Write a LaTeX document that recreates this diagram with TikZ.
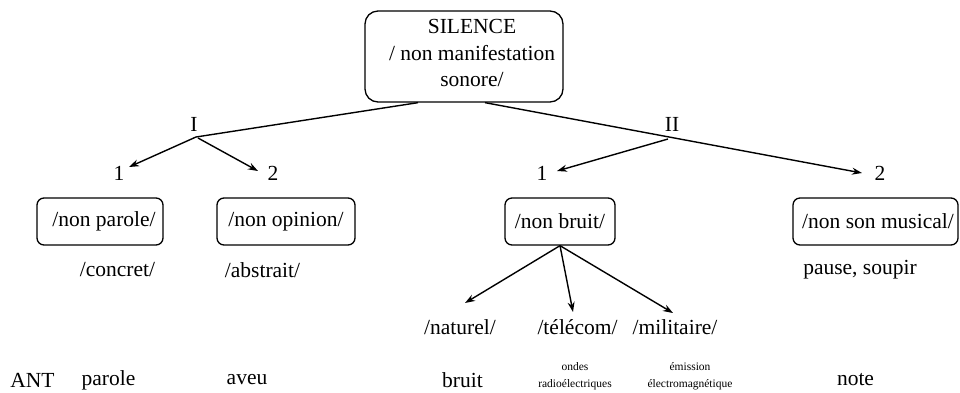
\documentclass[tikz,border=0pt]{standalone}
\usepackage{fontspec}
\setmainfont{Liberation Serif}
\usetikzlibrary{arrows.meta}
\begin{document}
\begin{tikzpicture}[x=1pt,y=-1pt,
  txt/.style={font=\fontsize{21.5}{26.5}\selectfont, inner sep=0pt},
  small/.style={font=\fontsize{11.5}{17}\selectfont, inner sep=0pt, align=center},
  box/.style={draw, rounded corners=7pt, line width=1.3pt, minimum height=47pt, inner sep=0pt, font=\fontsize{21.5}{26.5}\selectfont},
  conn/.style={line width=1.4pt},
  arr/.style={line width=1.4pt, -{Stealth[length=10pt,width=7pt]}}]
\useasboundingbox (0,0) rectangle (960,392);

% top box
\node[draw, rounded corners=13pt, line width=1.3pt, minimum width=198pt, minimum height=91pt, inner sep=0pt] (top) at (464,56.5) {};
\node[txt, align=center] (toptext) at (472,53) {SILENCE\\/ non manifestation\\sonore/};

% level labels
\node[txt] (lI) at (194,124) {I};
\node[txt] (lII) at (672,124) {II};
\node[txt] (n1a) at (119,173) {1};
\node[txt] (n2a) at (273,173) {2};
\node[txt] (n1b) at (542,173) {1};
\node[txt] (n2b) at (880,173) {2};

\coordinate (jI) at (196,137);
\coordinate (jIb) at (198,138);
\coordinate (jII) at (668,139);
\coordinate (tI1) at (129,167);
\coordinate (tI2) at (258,171);
\coordinate (tII1) at (557,171);
\coordinate (tII2) at (862,173);

\draw[conn] ([xshift=-46pt]top.south) -- (jI);
\draw[arr] (jI) -- (tI1);
\draw[arr] (jIb) -- (tI2);
\draw[arr] ([xshift=21pt]top.south) -- (tII2);
\draw[arr] (jII) -- (tII1);

% boxes
\node[box, minimum width=126pt] (parole) at (100,221.5) {\hspace*{8pt}/non parole/};
\node[box, minimum width=138pt] (opinion) at (286,221.5) {/non opinion/};
\node[box, minimum width=110pt] (bruitbox) at (560,221.5) {/non bruit/};
\node[box, minimum width=165pt] (musical) at (875.5,221.5) {\hspace*{5pt}/non son musical/};

% sub labels
\node[txt] (concret) at (117.5,270) {/concret/};
\node[txt] (abstrait) at (262.5,270) {/abstrait/};
\node[txt] (pause) at (860,270) {pause, soupir};

\node[txt] (naturel) at (460,327) {/naturel/};
\node[txt] (telecom) at (577.5,327) {/télécom/};
\node[txt] (militaire) at (675,327) {/militaire/};

\coordinate (tn) at (465,303);
\coordinate (tt) at (573,312);
\coordinate (tm) at (673,313);
\draw[arr] (bruitbox.south) -- (tn);
\draw[arr] (bruitbox.south) -- (tt);
\draw[arr] (bruitbox.south) -- (tm);

% bottom row
\node[txt] (ant) at (32.5,380) {ANT};
\node[txt] (bparole) at (108.5,380) {parole};
\node[txt] (baveu) at (247,380) {aveu};
\node[txt] (bbruit) at (462.5,380) {bruit};
\node[small] (ondes) at (575,376.5) {ondes\\radioélectriques};
\node[small] (emission) at (690,376.5) {émission\\électromagnétique};
\node[txt] (note) at (855.5,380) {note};
\end{tikzpicture}
\end{document}
